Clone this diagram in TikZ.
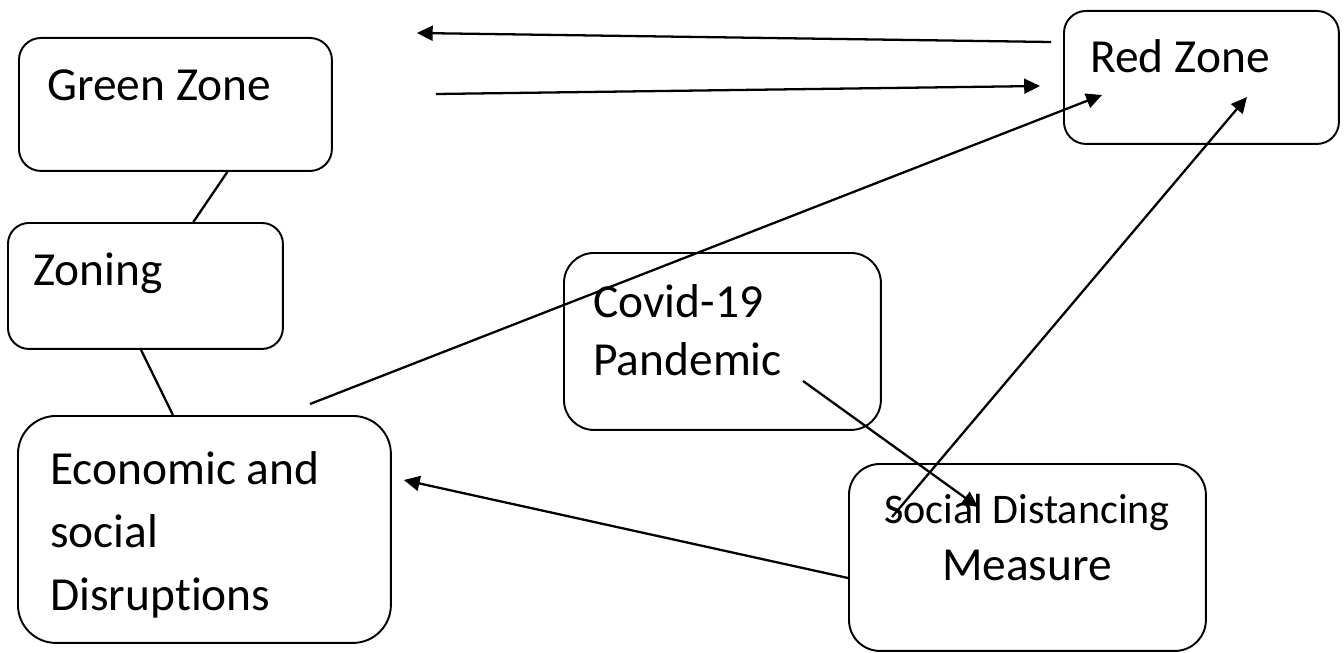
\documentclass[tikz,border=0pt]{standalone}
\usepackage{fontspec}
\setmainfont{Carlito}[Ligatures=NoCommon]
\usetikzlibrary{arrows.meta, calc}

\tikzset{
  zone/.style={draw, line width=1.1pt, inner sep=0pt, anchor=north west},
  lbl/.style={inner sep=0pt, anchor=base west, align=left, font=\fontsize{27}{35.7}\selectfont},
  link/.style={line width=1.3pt},
  arr/.style={link, -{Triangle[length=9pt,width=8.5pt]}},
}

\begin{document}
\begin{tikzpicture}[x=0.02cm, y=-0.02cm]
  \useasboundingbox (0,0) rectangle (1344,652);

  % Boxes
  \node[zone, minimum width=6.26cm, minimum height=2.66cm, rounded corners=0.44cm] (green) at (18,37) {};
  \node[zone, minimum width=5.5cm, minimum height=2.52cm, rounded corners=0.42cm] (zoning) at (7,222) {};
  \node[zone, minimum width=7.46cm, minimum height=4.54cm, rounded corners=0.76cm] (econ) at (17,415) {};
  \node[zone, minimum width=6.34cm, minimum height=3.54cm, rounded corners=0.6cm] (covid) at (563,252) {};
  \node[zone, minimum width=7.14cm, minimum height=3.74cm, rounded corners=0.62cm] (social) at (848,463) {};
  \node[zone, minimum width=5.5cm, minimum height=2.66cm, rounded corners=0.44cm] (red) at (1063,10) {};

  % Labels (base = last line)
  \node[lbl] (greentxt) at (47,100) {Green Zone};
  \node[lbl] (zoningtxt) at (33,285) {Zoning};
  \node[lbl, font=\fontsize{27}{35.7}\selectfont] (econtxt) at (50,610) {Economic and\\social\\Disruptions};
  \node[lbl, font=\fontsize{27}{32.9}\selectfont] (covidtxt) at (593,375) {Covid-19\\Pandemic};
  \node[lbl, anchor=base, align=center, font=\fontsize{27}{32.3}\selectfont] (socialtxt) at (1027,580) {{\fontsize{24}{32.3}\selectfont Social Distancing}\\Measure};
  \node[lbl] (redtxt) at (1090,72) {Red Zone};

  % Free ends
  \coordinate (redout) at ($(red.north west)+(-12,32)$);
  \coordinate (greenback) at ($(green.north east)+(84,-4)$);
  \coordinate (greenout) at ($(green.north east)+(103,57)$);
  \coordinate (redin) at ($(red.north west)+(-23,76)$);
  \coordinate (econout) at ($(econ.north west)+(293,-11)$);
  \coordinate (redinecon) at ($(red.north west)+(39,85)$);
  \coordinate (socialout) at ($(social.north west)+(44,54)$);
  \coordinate (redinsocial) at ($(red.north west)+(184,87)$);
  \coordinate (covidout) at ($(covid.north west)+(240,129)$);
  \coordinate (socialin) at ($(social.north west)+(130,44)$);
  \coordinate (socialwest) at ($(social.north west)+(0,115)$);
  \coordinate (econin) at ($(econ.north east)+(12,65)$);

  % Links
  \draw[link] ($(green.south west)!0.665!(green.south east)$) -- ($(zoning.north west)!0.673!(zoning.north east)$);
  \draw[link] ($(zoning.south west)!0.484!(zoning.south east)$) -- ($(econ.north west)!0.416!(econ.north east)$);
  \draw[arr] (redout) -- (greenback);
  \draw[arr] (greenout) -- (redin);
  \draw[arr] (econout) -- (redinecon);
  \draw[arr] (socialout) -- (redinsocial);
  \draw[arr] (covidout) -- (socialin);
  \draw[arr] (socialwest) -- (econin);
\end{tikzpicture}
\end{document}
